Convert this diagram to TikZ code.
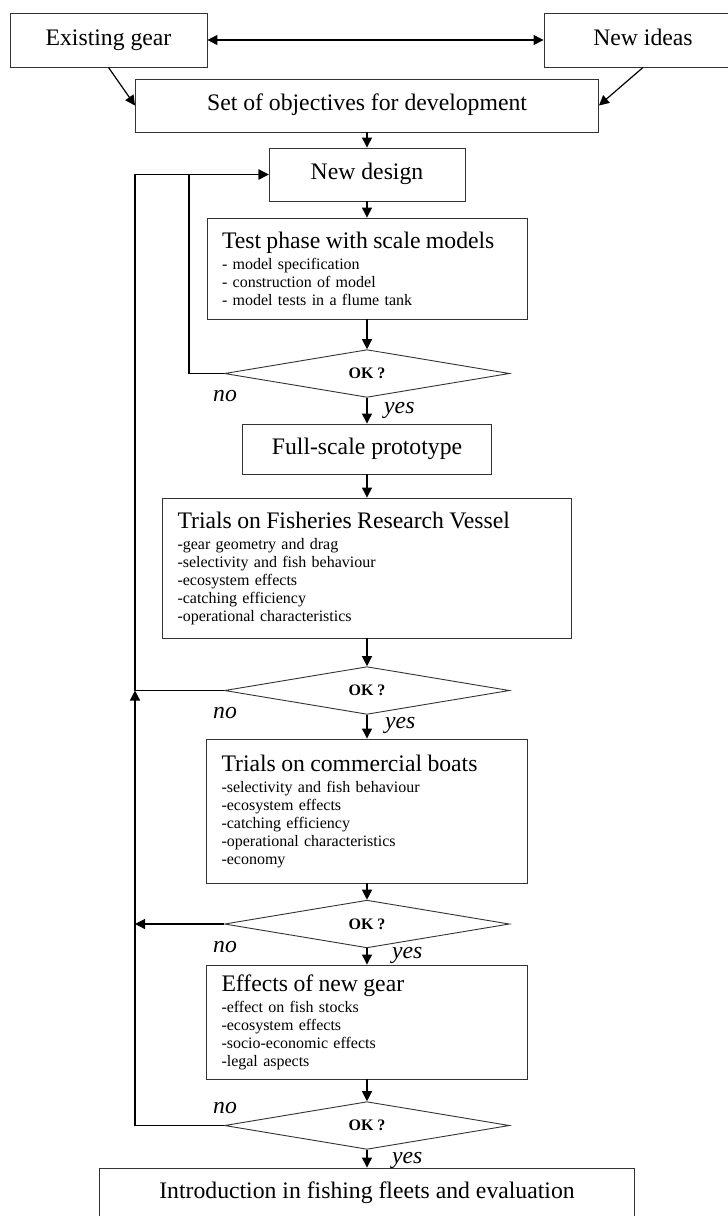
\documentclass[tikz,border=0pt]{standalone}
\usepackage{fontspec}
\setmainfont{Liberation Serif}
\usetikzlibrary{shapes.geometric,arrows.meta}

\newcommand{\boxtitle}{\fontsize{23.7}{26}\selectfont}
\newcommand{\itemsize}{\fontsize{16}{18}\selectfont}

\begin{document}
\begin{tikzpicture}[x=1pt, y=-1pt,
        >={Triangle[length=10pt,width=10pt]},
        box/.style={draw=black!80, line width=0.9pt, rectangle, font=\boxtitle, inner sep=0pt, text height=16pt, text depth=5.5pt},
        listbox/.style={draw=black!80, line width=0.9pt, rectangle, align=left, inner xsep=15pt, font=\itemsize},
        decision/.style={draw=black!80, line width=0.9pt, diamond, minimum width=285pt, minimum height=45pt, inner sep=0pt, font=\bfseries\fontsize{16}{18}\selectfont},
        answer/.style={font=\itshape\boxtitle, inner sep=0pt},
        flow/.style={->, line width=1.2pt}]

        \useasboundingbox (0,0) rectangle (728,1216);

        % Starting points
        \node[box, minimum width=197pt, minimum height=54pt] (gear) at (108.5,40) {Existing gear};
        \node[box, minimum width=198pt, minimum height=54pt] (ideas) at (643,40) {New ideas};
        \node[box, minimum width=463pt, minimum height=53pt] (goals) at (367,105.5) {Set of objectives for development};
        \node[box, minimum width=196pt, minimum height=53pt] (design) at (367,174.5) {New design};

        % Model stage
        \node[listbox, text width=290pt, minimum height=101pt] (models) at (367,268.5)
            {{\boxtitle Test phase with scale models}\\[3pt]
             - model specification\\
             - construction of model\\
             - model tests in a flume tank};
        \node[decision] (ok1) at (367,373.5) {OK ?};

        % Full-scale stage
        \node[box, minimum width=249pt, minimum height=50pt] (proto) at (367,449) {Full-scale prototype};
        \node[listbox, text width=379pt, minimum height=140pt] (vessel) at (367,568)
            {{\boxtitle Trials on Fisheries Research Vessel}\\[3pt]
             -gear geometry and drag\\
             -selectivity and fish behaviour\\
             -ecosystem effects\\
             -catching efficiency\\
             -operational characteristics};
        \node[decision] (ok2) at (367,690.5) {OK ?};

        \node[listbox, text width=291pt, minimum height=144pt] (boats) at (367,811)
            {{\boxtitle Trials on commercial boats}\\[3pt]
             -selectivity and fish behaviour\\
             -ecosystem effects\\
             -catching efficiency\\
             -operational characteristics\\
             -economy};
        \node[decision] (ok3) at (367,924) {OK ?};

        \node[listbox, text width=291pt, minimum height=114pt] (effects) at (367,1022)
            {{\boxtitle Effects of new gear}\\[3pt]
             -effect on fish stocks\\
             -ecosystem effects\\
             -socio-economic effects\\
             -legal aspects};
        \node[decision] (ok4) at (367,1125.5) {OK ?};

        \node[box, minimum width=535pt, minimum height=50pt] (fleets) at (367,1193) {Introduction in fishing fleets and evaluation};

        % Answers
        \node[answer, anchor=base] (no1) at (225,401) {no};
        \node[answer, anchor=base west] (yes1) at (384,413) {yes};
        \node[answer, anchor=base] (no2) at (225,718) {no};
        \node[answer, anchor=base west] (yes2) at (385,728) {yes};
        \node[answer, anchor=base] (no3) at (225,952) {no};
        \node[answer, anchor=base west] (yes3) at (392,958) {yes};
        \node[answer, anchor=base] (no4) at (225,1113) {no};
        \node[answer, anchor=base west] (yes4) at (392,1163) {yes};

        % Bends of the loops
        \coordinate (inner) at (189,174.5);
        \coordinate (outer) at (135,174.5);
        \coordinate (join2) at (135,690.5);
        \coordinate (join3) at (135,924);

        % Main flow
        \draw[flow, <->] (gear.east) -- (ideas.west);
        \draw[flow] (gear.south) -- (goals.west);
        \draw[flow] (ideas.south) -- (goals.east);
        \draw[flow] (goals) -- (design);
        \draw[flow] (design) -- (models);
        \draw[flow] (models) -- (ok1);
        \draw[flow] (ok1) -- (proto);
        \draw[flow] (proto) -- (vessel);
        \draw[flow] (vessel) -- (ok2);
        \draw[flow] (ok2) -- (boats);
        \draw[flow] (boats) -- (ok3);
        \draw[flow] (ok3) -- (effects);
        \draw[flow] (effects) -- (ok4);
        \draw[flow] (ok4) -- (fleets);

        % Loops back to the design
        \draw[flow] (ok1.west) -| (inner) -- (design.west);
        \draw[flow] (ok2.west) -| (outer) -- (design.west);
        \draw[flow] (ok4.west) -| (join2);
        \draw[flow] (ok3.west) -- (join3);
    \end{tikzpicture}
\end{document}
